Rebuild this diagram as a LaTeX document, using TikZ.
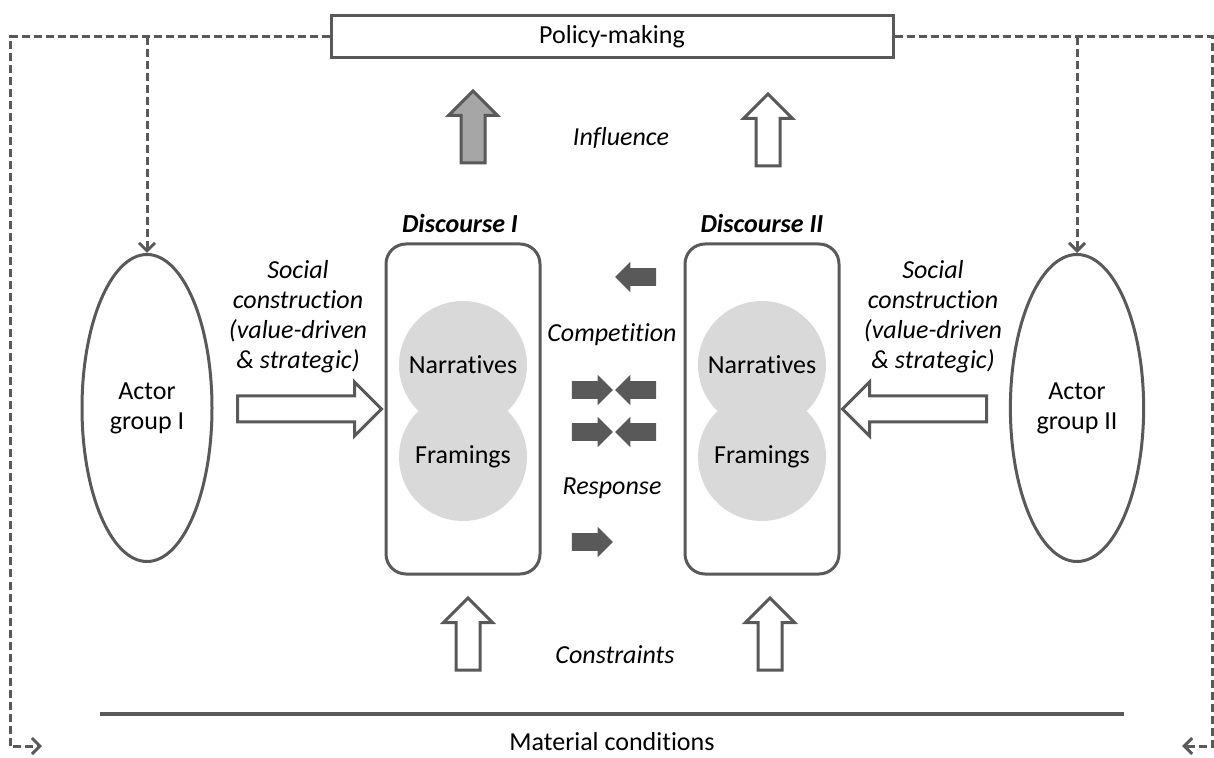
\documentclass[tikz,border=0pt]{standalone}
\usepackage{fontspec}
\setmainfont{Carlito}[Ligatures=NoCommon]
\usetikzlibrary{shapes.geometric,shapes.arrows,arrows.meta}
\definecolor{linegray}{HTML}{595959}
\definecolor{blobgray}{HTML}{D9D9D9}
\definecolor{fillgray}{HTML}{A6A6A6}
\tikzset{
  plainbox/.style={draw=linegray,line width=1.5pt,minimum width=281pt,minimum height=21pt},
  actor/.style={ellipse,draw=linegray,line width=1.5pt,minimum width=65pt,minimum height=153.5pt,align=center},
  discbox/.style={draw=linegray,line width=1.5pt,rounded corners=10pt,minimum width=77pt,minimum height=165pt},
  blob/.style={circle,fill=blobgray,minimum size=64pt,inner sep=0pt},
  bigarrow/.style={single arrow,draw=linegray,line width=1.5pt,fill=white,minimum width=0pt,minimum height=36pt,inner xsep=0pt,inner ysep=5.25pt,single arrow head extend=6.25pt},
  sidearrow/.style={bigarrow,minimum height=72pt,inner ysep=5.75pt,single arrow head extend=7pt},
  darkarrow/.style={single arrow,fill=linegray,minimum width=0pt,minimum height=20.5pt,inner xsep=0pt,inner ysep=4.25pt,single arrow head extend=3.25pt},
  feedback/.style={draw=linegray,line width=1.5pt,dash pattern=on 4pt off 2pt,-{Straight Barb[length=4pt,width=8pt]}},
  lbl/.style={align=center,font=\itshape\fontsize{13}{15}\selectfont}
}
\begin{document}
\begin{tikzpicture}[x=0.5pt,y=-0.5pt,font=\fontsize{13}{15}\selectfont]
\useasboundingbox (0,0) rectangle (1214,758);
\node[plainbox] (pm) at (612,37) {Policy-making};
\node[actor] (a1) at (147,408) {Actor\\group I};
\node[actor] (a2) at (1077,408) {Actor\\group II};
\foreach \x/\k in {463/1,762/2} {
  \node[discbox] (d\k) at (\x,409) {};
  \node[blob] (n\k) at (\x,365) {Narratives};
  \node[blob] (f\k) at (\x,457) {Framings};
}
\node (t1) at (460,223) {\bfseries\itshape Discourse I};
\node (t2) at (762,223) {\bfseries\itshape Discourse II};
\node[bigarrow,rotate=90,fill=fillgray] (i1) at (473,133) {};
\node[bigarrow,rotate=90] (i2) at (768,136) {};
\node[bigarrow,rotate=90] (c1) at (468,640) {};
\node[bigarrow,rotate=90] (c2) at (770,640) {};
\node[sidearrow] (s1) at (303,409) {};
\node[sidearrow,rotate=180] (s2) at (921,409) {};
\foreach \y in {390,432,542} \node[darkarrow] (r\y) at (588,\y) {};
\foreach \y in {277,390,432} \node[darkarrow,rotate=180] (l\y) at (640,\y) {};
\node[lbl] (infl) at (621,138) {Influence};
\node[lbl] (comp) at (612,335) {Competition};
\node[lbl] (resp) at (612,488) {Response};
\node[lbl] (cons) at (615,655) {Constraints};
\node[lbl] (sc1) at (298,317) {Social\\construction\\(value-driven\\\& strategic)};
\node[lbl] (sc2) at (933,317) {Social\\construction\\(value-driven\\\& strategic)};
\coordinate (m1) at (100,714);
\coordinate (m2) at (1124,714);
\draw[linegray,line width=1.75pt] (m1) -- (m2);
\node (mc) at (612,742) {Material conditions};
\coordinate (lc) at (10,746);
\coordinate (le) at (42,746);
\coordinate (rc) at (1212,746);
\coordinate (re) at (1182,746);
\draw[feedback] (pm.west) -| (lc) -- (le);
\draw[feedback] (pm.east) -| (rc) -- (re);
\draw[feedback] (a1 |- pm.west) -- (a1.north);
\draw[feedback] (a2 |- pm.east) -- (a2.north);
\end{tikzpicture}
\end{document}
